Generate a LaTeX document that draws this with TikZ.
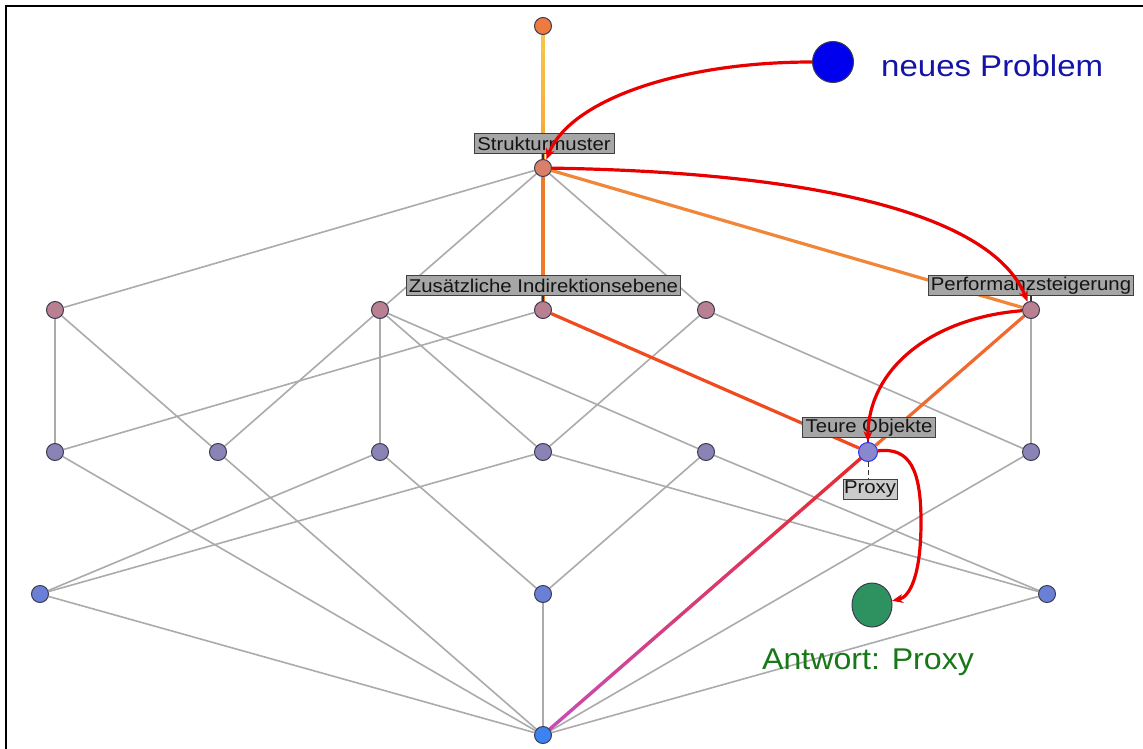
\documentclass[tikz,border=0pt]{standalone}
\usepackage{fontspec}
\setmainfont{Liberation Sans}
\newfontfamily\lblfont[FakeStretch=1.1]{Liberation Sans}
\newfontfamily\ansfont[FakeStretch=1.07]{Liberation Sans}
\usetikzlibrary{arrows.meta,calc,shapes.geometric}
\pgfdeclarelayer{bg}\pgfdeclarelayer{fg}\pgfsetlayers{bg,main,fg}
\definecolor{edgegray}{HTML}{ABABAB}
\definecolor{nodeborder}{HTML}{3C3C50}
\definecolor{ctop}{HTML}{EE7A40}
\definecolor{cs}{HTML}{D8806A}
\definecolor{clv2}{HTML}{B88090}
\definecolor{clv3}{HTML}{8A84B6}
\definecolor{clv4}{HTML}{6A80D6}
\definecolor{cbot}{HTML}{3C82F0}
\definecolor{selfill}{HTML}{8A88CC}
\definecolor{selborder}{HTML}{2E2EF0}
\definecolor{orangeA}{HTML}{F07A2A}
\definecolor{orangeB}{HTML}{F08638}
\definecolor{redorange}{HTML}{F04A1E}
\definecolor{orangered}{HTML}{F06A30}
\definecolor{yel}{HTML}{F8CA48}
\definecolor{yelorange}{HTML}{F6A234}
\definecolor{gradred}{HTML}{E82A2A}
\definecolor{gradmag}{HTML}{C84CB8}
\definecolor{arrred}{HTML}{E80000}
\definecolor{labfill}{HTML}{A6A6A6}
\definecolor{labfilllight}{HTML}{CBCBCB}
\definecolor{probblue}{HTML}{0000EE}
\definecolor{probtext}{HTML}{1414A8}
\definecolor{ansgreen}{HTML}{2E9260}
\definecolor{anstext}{HTML}{187818}
\tikzset{
  vtx/.style={circle, minimum size=17pt, inner sep=0pt, draw=nodeborder, line width=1pt},
  gedge/.style={draw=edgegray, line width=1.6pt},
  cedge/.style={line width=3.2pt},
  lab/.style={draw=black!75, fill=labfill, inner sep=0pt, minimum height=20pt,
    text=black!92, font=\lblfont\fontsize{18.5}{20}\selectfont},
  tick/.style={draw=black!80, line width=1.2pt},
  redarr/.style={draw=arrred, line width=3.2pt, -{Stealth[length=11pt,width=9pt]}},
  bigtext/.style={font=\lblfont\fontsize{30}{34}\selectfont, inner sep=0pt}
}
\begin{document}
\begin{tikzpicture}[x=1pt,y=-1pt]
\useasboundingbox (0,0) rectangle (1143,749);

% lattice nodes
\node[vtx, fill=ctop] (T) at (543,26) {};
\node[vtx, fill=cs] (S) at (543,168) {};
\node[vtx, fill=clv2] (A1) at (55,310) {};
\node[vtx, fill=clv2] (A2) at (380,310) {};
\node[vtx, fill=clv2] (A3) at (543,310) {};
\node[vtx, fill=clv2] (A4) at (706,310) {};
\node[vtx, fill=clv2] (A5) at (1031,310) {};
\node[vtx, fill=clv3] (B1) at (55,452) {};
\node[vtx, fill=clv3] (B2) at (218,452) {};
\node[vtx, fill=clv3] (B3) at (380,452) {};
\node[vtx, fill=clv3] (B4) at (543,452) {};
\node[vtx, fill=clv3] (B5) at (706,452) {};
\node[vtx, fill=selfill, draw=selborder, minimum size=19pt] (B6) at (868,452) {};
\node[vtx, fill=clv3] (B7) at (1031,452) {};
\node[vtx, fill=clv4] (C1) at (40,594) {};
\node[vtx, fill=clv4] (C2) at (543,594) {};
\node[vtx, fill=clv4] (C3) at (1047,594) {};
\node[vtx, fill=cbot] (D) at (543,735) {};

% problem / answer
\node[circle, minimum size=41pt, inner sep=0pt, fill=probblue, draw=nodeborder, line width=1pt] (P) at (833,62) {};
\node[bigtext, text=probtext, anchor=base west] (PT) at (881,77) {neues Problem};
\node[ellipse, minimum width=40pt, minimum height=44pt, inner sep=0pt, fill=ansgreen, draw=nodeborder, line width=1pt] (G) at (872,605) {};
\node[bigtext, font=\ansfont\fontsize{30}{34}\selectfont, text=anstext, anchor=base west] (GT) at (762,669) {Antwort: Proxy};

% labels
\node[lab, minimum width=140pt] (LS) at (544,143.5) {Strukturmuster};
\node[lab, minimum width=274pt] (LA3) at (543.5,285.5) {Zusätzliche Indirektionsebene};
\node[lab, minimum width=205pt] (LA5) at (1031,285.5) {Performanzsteigerung};
\node[lab, minimum width=133pt] (LB6) at (869,427.5) {Teure Objekte};
\node[lab, fill=labfilllight, minimum width=54pt] (LP) at (870,489) {Proxy};

\begin{pgfonlayer}{bg}
  \fill[white] (0,0) rectangle (1143,749);
  % frame
  \draw[line width=2.8pt, black] (6,749) -- (6,6) -- (1143,6);
  % gray edges
  \foreach \a/\b in {S/A1,S/A2,S/A4,
      A1/B1,A1/B2,A2/B2,A2/B3,A2/B4,A2/B5,A3/B1,A4/B4,A4/B7,A5/B7,
      B1/D,B2/D,B3/C1,B3/C2,B4/C1,B4/C3,B5/C2,B5/C3,B7/D,
      C1/D,C2/D,C3/D}
    \draw[gedge] (\a) -- (\b);
  % coloured edges
  \draw[cedge, draw=orangeA] (S) -- (A3);
  \draw[cedge, draw=orangeB] (S) -- (A5);
  \draw[cedge, draw=redorange] (A3) -- (B6);
  \draw[cedge, draw=orangered] (A5) -- (B6);
  \foreach \i in {0,...,9}{
    \pgfmathtruncatemacro{\p}{\i*10+5}
    \pgfmathsetmacro{\s}{\i/10}
    \pgfmathsetmacro{\e}{(\i+1)/10}
    \draw[cedge, line width=3.4pt, line cap=round, draw=gradmag!\p!gradred] ($(B6)!\s!(D)$) -- ($(B6)!\e!(D)$);
    \draw[cedge, line width=3.4pt, line cap=round, draw=yelorange!\p!yel] ($(T)!\s!(S)$) -- ($(T)!\e!(S)$);
  }
\end{pgfonlayer}

% label ticks
\draw[tick] (LS.south -| S) -- (S.north);
\draw[tick] (LA3.south -| A3) -- (A3.north);
\draw[tick] (LA5.south -| A5) -- (A5.north);
\draw[tick] (LB6.south -| B6) -- (B6.north);
\draw[tick, line width=1pt, dash pattern=on 5pt off 3pt] (B6.south) -- (LP.north -| B6);

\begin{pgfonlayer}{fg}
  \draw[redarr] (P.west) .. controls (680,62) and (570,100) .. (S);
  \draw[redarr] (S) .. controls (800,172) and (990,210) .. (A5);
  \draw[redarr] (A5) .. controls (930,318) and (868,370) .. (B6);
  \coordinate (bend) at (921,522);
  \draw[redarr] (B6) .. controls (910,447) and (921,470) .. (bend) .. controls (921,575) and (910,597) .. (G);
\end{pgfonlayer}
\end{tikzpicture}
\end{document}
